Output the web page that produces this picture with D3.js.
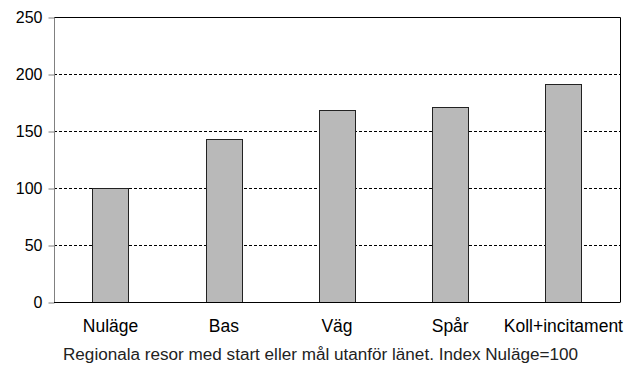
<!DOCTYPE html>
<html><head><meta charset="utf-8">
<script src="https://cdn.jsdelivr.net/npm/d3@7"></script>
<style>body{margin:0;background:#fff}svg{display:block}</style>
</head><body>
<svg id="c" width="626" height="365"></svg>
<script>
const categories = ["Nuläge","Bas","Väg","Spår","Koll+incitament"];
const values = [100, 143, 168, 171, 191];
const yTicks = [0,50,100,150,200,250];
const caption = "Regionala resor med start eller mål utanför länet. Index Nuläge=100";

const svg = d3.select("#c");
const m = {l:54, r:620, t:17, b:302};
const x = d3.scaleBand().domain(categories).range([m.l, m.r]).paddingInner(0.68).paddingOuter(0.34);
const y = d3.scaleLinear().domain([0,250]).range([m.b, m.t]);
const font = "Liberation Sans, Arial, sans-serif";

// gridlines
svg.append("g").selectAll("line").data(yTicks.filter(d=>d>0 && d<250)).join("line")
  .attr("x1", m.l).attr("x2", m.r)
  .attr("y1", d=>Math.round(y(d))+0.5).attr("y2", d=>Math.round(y(d))+0.5)
  .attr("stroke","#000").attr("stroke-width",1).attr("stroke-dasharray","3,2");
// top and right border
svg.append("path").attr("d",`M${m.l},${Math.round(m.t)+0.5}H${m.r+0.5}V${m.b}`)
  .attr("fill","none").attr("stroke","#000").attr("stroke-width",1);

// bars
svg.append("g").selectAll("rect").data(values).join("rect")
  .attr("x",(d,i)=>Math.round(x(categories[i]))+0.5)
  .attr("y",d=>Math.round(y(d))+0.5)
  .attr("width",Math.round(x.bandwidth()))
  .attr("height",d=>Math.round(m.b)-Math.round(y(d)))
  .attr("fill","#b9b9b9").attr("stroke","#222").attr("stroke-width",1);

// y axis
const ya = d3.axisLeft(y).tickValues(yTicks).tickSize(6).tickPadding(6).tickFormat(d3.format("d"));
const gy = svg.append("g").attr("transform",`translate(${m.l+0.5},0.5)`).call(ya);
gy.select(".domain").attr("stroke","#808080").attr("d",`M0,${Math.round(m.t)}V${m.b}`);
gy.selectAll(".tick line").attr("stroke","#808080");
gy.selectAll("text").attr("font-family",font).attr("font-size",16).attr("fill","#000");

// x axis
const xa = d3.axisBottom(x).tickSize(0).tickPadding(17);
const gx = svg.append("g").attr("transform",`translate(0,${m.b+0.5})`).call(xa);
gx.select(".domain").attr("stroke","#000").attr("d",`M${m.l},0H${m.r+0.5}`);
gx.selectAll("text").attr("font-family",font).attr("font-size",17.5).attr("fill","#000");

svg.append("text").attr("x",63).attr("y",360).attr("font-family",font).attr("font-size",16)
  .attr("textLength",515).attr("lengthAdjust","spacingAndGlyphs").attr("fill","#222").text(caption);
</script>
</body></html>
